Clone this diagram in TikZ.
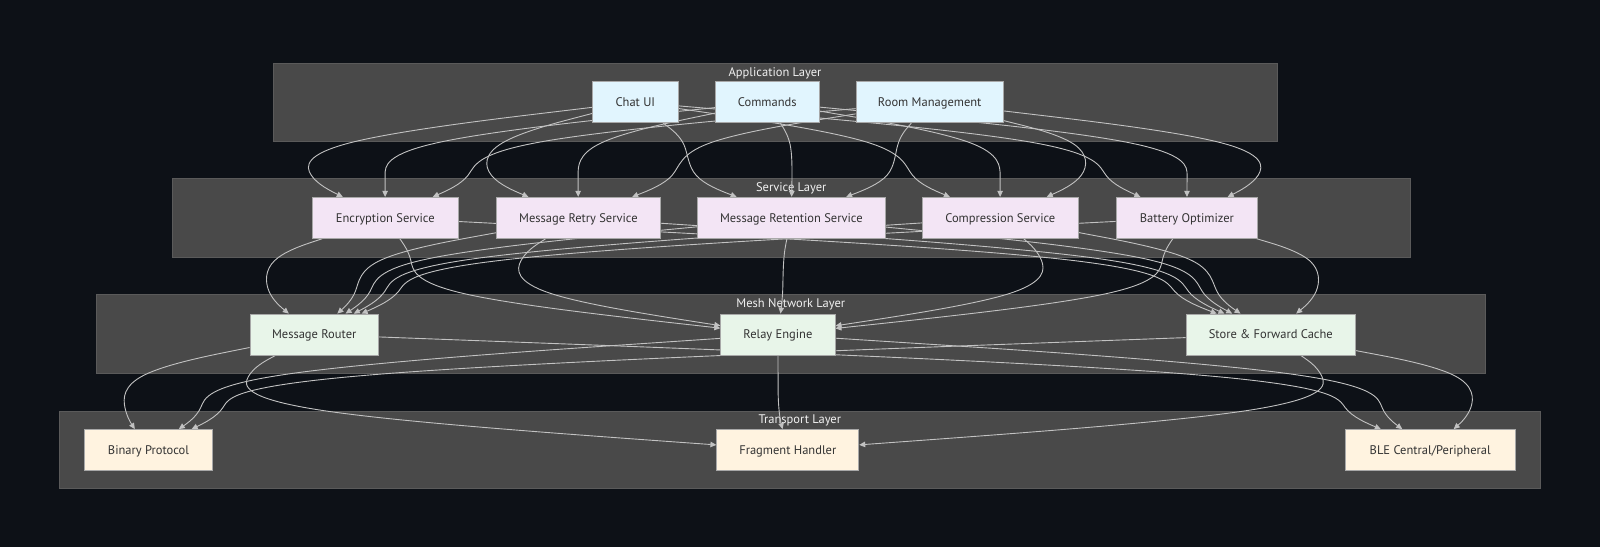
\documentclass[tikz,border=0pt]{standalone}
\usepackage{fontspec}
\setmainfont{PT Sans}
\usetikzlibrary{calc,arrows.meta}
\definecolor{bgc}{HTML}{0D1117}
\definecolor{clfill}{HTML}{494949}
\definecolor{cldraw}{HTML}{5A5A5A}
\definecolor{edgec}{HTML}{C2C2C2}
\definecolor{appf}{HTML}{E1F5FE}
\definecolor{svcf}{HTML}{F3E5F5}
\definecolor{meshf}{HTML}{E8F5E9}
\definecolor{trf}{HTML}{FFF3E0}
\definecolor{nodeb}{HTML}{A8A8A8}
\definecolor{ntext}{HTML}{333333}
\pgfdeclarelayer{bglayer}
\pgfdeclarelayer{edgelayer}
\pgfsetlayers{bglayer,edgelayer,main}
\newcommand\bsedge[5]{%
  \coordinate (Q1) at (#3,#4);
  \coordinate (Q2) at (#3,#5);
  \path (#1) -- (Q1) coordinate[pos=0] (Q0);
  \path (Q2) -- (#2) coordinate[pos=1] (Q3);
  \draw[edge] (Q0) -- ($0.8333*(Q0)+0.1667*(Q1)$)
   .. controls ($0.6667*(Q0)+0.3333*(Q1)$) and ($0.3333*(Q0)+0.6667*(Q1)$) .. ($0.1667*(Q0)+0.6667*(Q1)+0.1667*(Q2)$)
   .. controls ($0.6667*(Q1)+0.3333*(Q2)$) and ($0.3333*(Q1)+0.6667*(Q2)$) .. ($0.1667*(Q1)+0.6667*(Q2)+0.1667*(Q3)$)
   .. controls ($0.6667*(Q2)+0.3333*(Q3)$) and ($0.3333*(Q2)+0.6667*(Q3)$) .. (Q3);
}
\begin{document}
\begin{tikzpicture}[x=1pt,y=-1pt,
  box/.style={draw=nodeb, line width=0.8pt, inner sep=0pt, minimum height=41pt, text height=9pt, text depth=0.2pt, font=\fontsize{12.5}{14}\selectfont, text=ntext},
  cluster/.style={fill=clfill, draw=cldraw, line width=0.8pt},
  ctitle/.style={text=white!94!black, text height=9pt, text depth=0.2pt, font=\fontsize{12.5}{14}\selectfont, inner sep=0pt},
  edge/.style={draw=edgec, line width=0.9pt, -{Triangle[length=6pt,width=5.5pt]}}
]
\useasboundingbox (0,0) rectangle (1600,547);
% nodes
\node[box, fill=appf, minimum width=86pt] (chat) at (635.3,102.2) {Chat UI};
\node[box, fill=appf, minimum width=103.3pt] (cmd) at (767.3,102.2) {Commands};
\node[box, fill=appf, minimum width=147.3pt] (room) at (929.7,102.2) {Room Management};
\node[box, fill=svcf, minimum width=146pt] (enc) at (385.3,217.8) {Encryption Service};
\node[box, fill=svcf, minimum width=164pt] (retry) at (578.4,217.8) {Message Retry Service};
\node[box, fill=svcf, minimum width=187.5pt] (ret) at (791.3,217.8) {Message Retention Service};
\node[box, fill=svcf, minimum width=156pt] (comp) at (1000.3,217.8) {Compression Service};
\node[box, fill=svcf, minimum width=141.7pt] (bat) at (1186.9,217.8) {Battery Optimizer};
\node[box, fill=meshf, minimum width=128.3pt] (router) at (314.2,334.5) {Message Router};
\node[box, fill=meshf, minimum width=114.3pt] (relay) at (777.9,334.5) {Relay Engine};
\node[box, fill=meshf, minimum width=169.6pt] (store) at (1270.8,334.5) {Store \& Forward Cache};
\node[box, fill=trf, minimum width=127.5pt] (bin) at (148.5,450) {Binary Protocol};
\node[box, fill=trf, minimum width=142pt] (frag) at (787.8,450) {Fragment Handler};
\node[box, fill=trf, minimum width=169.5pt] (ble) at (1430.2,450) {BLE Central/Peripheral};
% clusters
\begin{pgfonlayer}{bglayer}
\fill[bgc] (0,0) rectangle (1600,547);
\draw[cluster] (273,63) rectangle (1277,141.7);
\node[ctitle] (tapp) at (775,71.7) {Application Layer};
\draw[cluster] (172.4,178.3) rectangle (1410,257.7);
\node[ctitle] (tsvc) at (791.2,187.3) {Service Layer};
\draw[cluster] (96,294) rectangle (1485.5,373);
\node[ctitle] (tmesh) at (790.8,303.3) {Mesh Network Layer};
\draw[cluster] (59,411) rectangle (1540.6,488.8);
\node[ctitle] (ttr) at (799.8,419.3) {Transport Layer};
\end{pgfonlayer}
% edges
\begin{pgfonlayer}{edgelayer}
\bsedge{chat}{enc}{305}{141.7}{178.3}
\bsedge{cmd}{enc}{385}{141.7}{178.3}
\bsedge{room}{enc}{475}{141.7}{178.3}
\bsedge{chat}{retry}{484}{141.7}{178.3}
\bsedge{cmd}{retry}{578}{141.7}{178.3}
\bsedge{room}{retry}{680}{141.7}{178.3}
\bsedge{chat}{ret}{688}{141.7}{178.3}
\bsedge{cmd}{ret}{792}{141.7}{178.3}
\bsedge{room}{ret}{895}{141.7}{178.3}
\bsedge{chat}{comp}{905}{141.7}{178.3}
\bsedge{cmd}{comp}{1000}{141.7}{178.3}
\bsedge{room}{comp}{1088}{141.7}{178.3}
\bsedge{chat}{bat}{1099}{141.7}{178.3}
\bsedge{cmd}{bat}{1187}{141.7}{178.3}
\bsedge{room}{bat}{1264}{141.7}{178.3}
%
\bsedge{enc}{router}{265}{257.7}{294}
\bsedge{retry}{router}{359}{257.7}{294}
\bsedge{ret}{router}{375}{257.7}{294}
\bsedge{comp}{router}{391}{257.7}{294}
\bsedge{bat}{router}{406}{257.7}{294}
\bsedge{enc}{relay}{413}{257.7}{294}
\bsedge{retry}{relay}{516}{257.7}{294}
\bsedge{ret}{relay}{783}{257.7}{294}
\bsedge{comp}{relay}{1045}{257.7}{294}
\bsedge{bat}{relay}{1160}{257.7}{294}
\bsedge{enc}{store}{1166}{257.7}{294}
\bsedge{retry}{store}{1181}{257.7}{294}
\bsedge{ret}{store}{1196}{257.7}{294}
\bsedge{comp}{store}{1212}{257.7}{294}
\bsedge{bat}{store}{1320}{257.7}{294}
%
\bsedge{router}{bin}{123}{373}{411}
\bsedge{router}{frag}{243}{373}{411}
\bsedge{router}{ble}{1338}{373}{411}
\bsedge{relay}{bin}{205}{373}{411}
\bsedge{relay}{frag}{778}{373}{411}
\bsedge{relay}{ble}{1378}{373}{411}
\bsedge{store}{bin}{229}{373}{411}
\bsedge{store}{frag}{1326}{373}{411}
\bsedge{store}{ble}{1474}{373}{411}
\end{pgfonlayer}
\end{tikzpicture}
\end{document}
